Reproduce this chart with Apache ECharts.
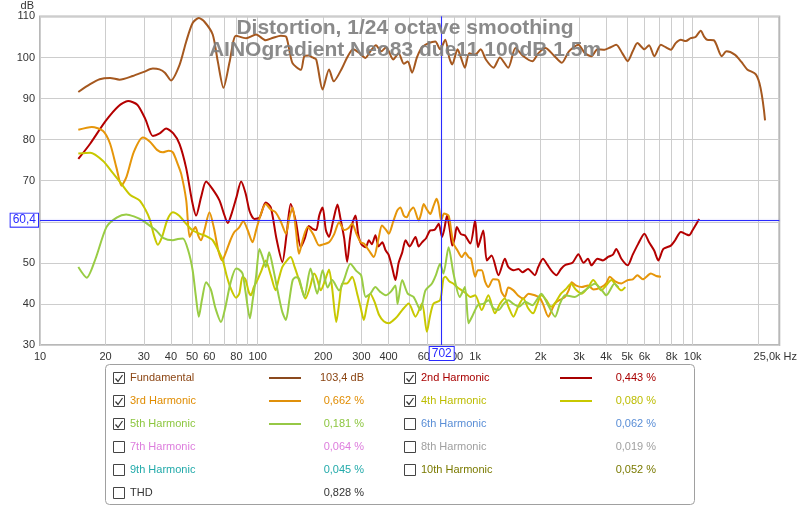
<!DOCTYPE html>
<html><head><meta charset="utf-8">
<script src="https://cdn.jsdelivr.net/npm/echarts@6/dist/echarts.min.js"></script>
<style>html,body{margin:0;padding:0;background:#fff}#c{width:800px;height:507px}</style>
</head><body><div id="c"></div>
<script>
// ---------- DATA ----------
const titleLines = ['Distortion, 1/24 octave smoothing', 'AINOgradient Neo83 due11 100dB 1.5m'];
const yUnit = 'dB';
const xTickValues = [10,20,30,40,50,60,70,80,90,100,200,300,400,500,600,700,800,900,1000,2000,3000,4000,5000,6000,7000,8000,9000,10000,20000];
const xLabelValues = [10,20,30,40,50,60,80,100,200,300,400,600,800,1000,2000,3000,4000,5000,6000,8000,10000,24999];
const xMaxLabel = '25,0k Hz';
const cursorFreq = 702;
const cursorDb = 60.4;

const fundFreq = [15,17,18.8,21,23.2,26.7,30,33,35.4,37.5,40,43.8,47,50.3,53.7,57,62.2,65.6,69.7,74.5,79.6,88.6,98.4,109,118,128,135.5,144.5,158,164,172,179,186,199,213,224,245,258,275,295,313,330,350,370,390,420,445,470,490,513,540,570,611,656,690,729,760,785,830,860,897,940,1000,1060,1120,1215,1300,1418,1532,1650,1833,1950,2102,2300,2502,2700,2980,3200,3426,3650,3940,4200,4450,4750,5023,5300,5570,6000,6300,6660,7140,7500,7935,8350,8820,9300,9790,10300,10880,11300,11640,12500,13600,14300,15600,16700,17800,19500,20500,21500];
const fundDb   = [91.6,93.5,94.7,95.0,94.6,95.5,96.5,97.3,97.1,96.3,94.4,98.2,103.9,108.4,109.6,108.7,105.6,99.1,92.6,99.1,105.3,104.7,105.6,104.2,104.8,105.3,105.0,98.7,97.0,100.3,100.5,100.0,99.5,92.2,97.1,94.2,97.5,100.0,102.0,101.0,99.9,101.5,103.0,101.5,102.5,99.5,101.0,98.5,99.0,96.3,100.0,102.5,103.5,103.9,102.0,104.3,100.0,98.3,102.0,100.0,97.5,101.0,100.7,102.0,99.5,97.5,100.0,97.5,102.3,100.5,99.1,101.0,102.3,100.5,98.7,101.5,103.1,101.0,100.3,102.0,101.9,102.5,103.1,101.0,99.1,101.5,103.5,102.0,103.0,100.3,103.1,102.5,101.9,103.5,104.3,104.0,104.7,105.0,106.5,105.0,104.3,104.2,100.3,101.5,100.7,99.0,97.1,95.9,92.6,84.7];

const h2Freq = [15,17,20,23,25.4,28,30.5,33,35.5,38,41,43.8,47,50,52.2,55,58,62,66.8,70,73,76,80,84,88,92,96.6,102,109,115,122,130,136,142,150,158,165,172,179,186,192,199,206,213,222,233,240,250,258,266,274,282,290,300,314,325,335,348,360,374,388,400,415,430,445,462,479,500,532,550,570,595,622,650,680,704,720,743,765,785,805,824,860,897,950,1000,1030,1090,1132,1190,1280,1370,1420,1503,1580,1650,1750,1880,1950,2050,2150,2250,2364,2480,2600,2800,2982,3150,3300,3426,3650,3868,4100,4300,4450,4700,5023,5300,5600,6000,6300,6650,6950,7330,7935,8300,8820,9300,9620,10000,10400,10700];
const h2Db   = [75.3,79.0,84.5,88.2,89.4,88.5,85.0,80.9,81.5,82.7,81.5,78.9,73.0,65.0,61.5,66.0,69.8,68.0,65.2,62.0,59.7,62.0,66.0,69.8,67.0,62.5,60.7,61.0,64.7,63.5,56.0,50.2,57.0,64.3,60.0,53.8,56.0,59.0,58.3,58.0,61.5,63.5,58.0,56.3,60.0,64.2,61.0,56.0,50.2,56.0,60.0,61.5,57.0,54.5,53.8,55.5,54.5,56.7,54.0,55.0,53.0,52.0,49.0,45.8,50.0,52.5,55.5,54.0,56.3,54.0,55.0,56.0,57.9,58.0,59.5,56.3,58.0,61.5,58.0,54.2,56.0,58.7,57.0,56.7,54.7,60.3,53.8,57.9,50.6,51.8,47.0,51.0,49.0,48.2,48.5,47.7,48.5,47.0,49.0,51.0,49.5,48.0,47.0,48.5,49.5,50.0,52.1,50.0,51.0,49.4,51.0,50.6,51.5,52.0,53.4,51.0,49.4,52.0,54.5,57.1,55.0,53.0,50.6,53.4,54.2,55.5,57.5,57.0,56.7,58.0,59.5,60.7];

const h3Freq = [15,17.3,19.5,21,22.5,23.7,25,27,29.7,32,34.5,36.7,39,40.8,43,44.6,47,48.7,50,51.8,53.5,55,57,60.1,63,66,68.7,72,75,78.2,82,86,90,94.8,98.4,103,109,115,121,128,135,140,145,150,155,162,170,180,192,200,213,225,237,250,262,272,285,298,308,325,342,360,373,390,401,420,438,453,470,485,500,520,550,565,580,600,622,645,665,680,698,720,755,775,795,830,867,900,933,958,1000,1030,1072,1110,1150,1210,1280,1320,1370,1420,1500,1580,1665,1760,1880,1980,2050,2170,2250,2326,2450,2590,2700,2780,2900,3090,3300,3500,3800,4000,4160,4400,4700,5023,5300,5570,5900,6420,6800,7140];
const h3Db   = [82.4,83.1,82.1,79.0,73.0,68.8,71.0,77.0,80.5,79.5,77.5,76.9,77.3,76.9,74.0,71.6,65.2,56.3,57.5,58.7,56.5,55.5,58.0,62.3,58.5,53.0,50.6,53.0,55.5,57.5,58.5,60.1,58.0,55.0,57.9,61.5,64.3,63.0,62.3,60.0,57.1,61.0,63.5,58.0,52.2,56.0,58.7,57.0,54.2,54.5,55.0,57.0,59.9,58.0,58.5,59.5,57.0,55.0,54.7,53.0,51.4,56.0,59.1,58.0,57.1,60.0,62.7,63.5,61.5,61.1,62.5,63.5,60.3,62.0,64.3,63.0,61.9,64.0,65.6,64.0,60.3,62.0,61.5,58.0,54.7,53.0,51.4,52.5,51.4,51.0,46.6,48.2,48.2,45.5,44.1,46.0,45.8,43.0,41.7,44.0,43.3,42.0,41.3,42.5,42.1,41.5,40.0,36.9,38.5,40.1,41.0,41.7,43.5,45.3,44.5,44.1,44.5,43.5,44.1,45.0,46.6,45.5,45.0,45.8,46.0,47.0,46.0,47.4,46.8,46.6];

const h4Freq = [15,17,19.5,21.5,23.7,26,28.7,30.5,31.9,33.5,34.8,36.5,38.5,40.8,43.5,47,50,54,58,62.2,66,69.2,72,75,79.6,82.4,85.3,88,91,93.2,96,99.8,104,109,115,121,125,130,136,142,148,155,160,166,174,182,188,195,205,213,220,230,237,245,258,272,287,298,308,318,330,345,362,380,401,420,438,462,495,532,570,600,620,644,690,715,730,760,795,830,867,910,950,1000,1072,1150,1233,1300,1370,1430,1500,1580,1665,1750,1846,1930,2015,2120,2233,2350,2480,2600,2760,2900,3090,3300,3490,3650,3800,4000,4230,4450,4700,4900];
const h4Db   = [76.6,76.8,74.8,72.0,69.2,66.5,65.2,63.0,60.7,56.5,54.4,56.5,60.5,62.3,61.5,59.5,58.0,57.1,56.5,55.5,53.0,50.6,47.0,44.0,41.5,42.5,46.6,46.0,43.0,42.1,44.0,45.8,48.0,50.6,47.0,43.3,46.0,49.0,50.5,51.4,49.0,45.8,43.5,41.3,44.0,47.4,46.0,43.3,46.0,48.4,44.0,35.6,40.0,44.9,45.0,46.6,42.5,39.0,36.1,39.5,42.5,40.5,37.3,35.8,35.3,36.0,36.9,38.5,40.1,36.9,40.1,33.2,37.0,40.1,40.9,46.2,46.6,45.5,44.9,44.0,43.3,42.5,41.7,42.1,38.5,42.1,37.7,40.0,41.3,39.0,36.9,39.5,41.3,39.0,37.7,40.0,42.1,41.0,39.3,40.5,42.5,43.5,44.9,43.5,42.5,44.0,45.8,44.5,43.3,44.5,45.8,44.5,43.3,44.1];

const h5Freq = [15,16.4,18,20.2,22.5,24.9,27,29.7,32,34.2,37,40.8,43,45.4,48,50.3,52,53.7,55.5,58,61,64,67.9,71,75,79.6,82,85.3,88,92.2,95,98.4,102,106,109,113,118,125,130,135,140,145,150,155,164,175,188,199,210,220,237,250,267,285,299,314,330,348,365,388,410,430,440,462,490,521,560,591,632,660,690,715,755,795,850,897,933,970,1030,1090,1150,1210,1280,1350,1420,1500,1590,1700,1833,1920,2015,2150,2330,2450,2590,2870,3050,3200,3550,3800,4010,4370,4550];
const h5Db   = [49.0,46.4,51.0,58.7,61.0,61.8,61.3,60.3,59.0,57.9,56.0,55.5,55.8,55.9,53.0,48.2,42.0,36.9,41.0,45.3,43.5,39.0,35.6,39.0,45.0,48.6,48.4,47.4,43.0,36.5,41.0,46.6,53.4,51.0,49.0,52.6,48.6,42.0,38.0,36.1,41.0,45.8,46.5,46.2,41.7,48.6,42.5,48.2,44.0,45.8,43.3,46.0,49.8,48.0,47.0,41.7,42.5,44.1,43.0,42.1,43.0,44.5,40.0,45.8,42.5,41.7,38.5,43.3,44.9,47.0,49.8,47.4,53.8,47.4,41.7,44.1,35.3,37.0,39.7,40.0,40.9,39.0,38.5,40.0,40.9,40.0,39.3,40.5,39.7,41.0,42.5,40.0,36.9,40.0,42.1,41.7,42.5,43.3,44.9,43.5,42.1,44.9,44.0];

const legendNames  = ['Fundamental','2nd Harmonic','3rd Harmonic','4th Harmonic','5th Harmonic','6th Harmonic','7th Harmonic','8th Harmonic','9th Harmonic','10th Harmonic','THD'];
const legendValues = ['103,4 dB','0,443 %','0,662 %','0,080 %','0,181 %','0,062 %','0,064 %','0,019 %','0,045 %','0,052 %','0,828 %'];
const legendChecked = [true,true,true,true,true,false,false,false,false,false,false];

// ---------- STYLE ----------
const FONT = '"Liberation Sans", Arial, sans-serif';
const traceColors = ['#a5581f','#b40000','#e6960a','#c8c800','#99cc44'];
const legendTextColors = ['#8b4513','#a80000','#e08c00','#bcbc00','#8cc63f','#5a8ed6','#dd7ddd','#a0a0a0','#22aaaa','#7a7a00','#333333'];
const legendLineColors = ['#8b4a1e','#a80000','#e0900a','#c8c800','#96c846'];
const cursorColor = '#2a2aff';

function pairs(f, d) { return f.map((v, i) => [v, d[i]]); }
const seriesDefs = [
  ['Fundamental', fundFreq, fundDb],
  ['2nd Harmonic', h2Freq, h2Db],
  ['3rd Harmonic', h3Freq, h3Db],
  ['4th Harmonic', h4Freq, h4Db],
  ['5th Harmonic', h5Freq, h5Db]
];

function fmtX(v) {
  const r = Math.round(v);
  if (r >= 24000) return '{e|' + xMaxLabel + '}';
  if (r >= 1000) return (r / 1000) + 'k';
  return String(r);
}

const series = seriesDefs.map((s, i) => ({
  name: s[0], type: 'line', data: pairs(s[1], s[2]), showSymbol: false, symbol: 'none',
  smooth: 0.25, lineStyle: { width: 2, color: traceColors[i] }, itemStyle: { color: traceColors[i] },
  z: 3, animation: false, silent: true
}));
const cLabel = {
  show: true, position: 'start', color: cursorColor, backgroundColor: '#fff',
  borderColor: cursorColor, borderWidth: 1, padding: [1, 2, 0, 2], fontSize: 12, fontFamily: FONT, distance: 2
};
series.push({
  name: 'cursor', type: 'line', data: [], silent: true, z: 4,
  markLine: {
    silent: true, symbol: 'none', animation: false,
    lineStyle: { color: cursorColor, width: 1, type: 'solid', shadowColor: 'rgba(80,80,255,0.35)', shadowBlur: 2 },
    emphasis: { disabled: true },
    data: [
      { xAxis: cursorFreq, label: Object.assign({}, cLabel, { formatter: String(Math.round(cursorFreq)) }) },
      { yAxis: cursorDb, label: Object.assign({}, cLabel, { formatter: String(cursorDb).replace('.', ',') }) }
    ]
  }
});

// ---------- LEGEND (graphic) ----------
const graphics = [];
graphics.push({ type: 'rect', shape: { x: 105.5, y: 364.5, width: 589, height: 140, r: 4 },
  style: { fill: '#fff', stroke: '#a0a0a0', lineWidth: 1 }, z: 0 });
legendNames.forEach((name, i) => {
  const col = i % 2, row = Math.floor(i / 2);
  const bx = col ? 404 : 113;
  const cy = 378 + row * 23;
  const color = legendTextColors[i];
  graphics.push({ type: 'rect', shape: { x: bx + 0.5, y: cy - 5.5, width: 11, height: 11 },
    style: { fill: '#fff', stroke: '#444', lineWidth: 1 }, z: 1 });
  if (legendChecked[i]) {
    graphics.push({ type: 'polyline', shape: { points: [[bx + 2.5, cy + 0.5], [bx + 5, cy + 3.5], [bx + 9.5, cy - 3]] },
      style: { stroke: '#333', lineWidth: 1.2, fill: null }, z: 1 });
    graphics.push({ type: 'line', shape: { x1: col ? 560 : 269, y1: cy, x2: col ? 592 : 301, y2: cy },
      style: { stroke: legendLineColors[i], lineWidth: 2 }, z: 1 });
  }
  graphics.push({ type: 'text', x: bx + 17, y: cy, z: 1,
    style: { text: name, fill: color, fontSize: 11, fontFamily: FONT, align: 'left', verticalAlign: 'middle' } });
  graphics.push({ type: 'text', x: col ? 656 : 364, y: cy, z: 1,
    style: { text: legendValues[i], fill: color, fontSize: 11, fontFamily: FONT, align: 'right', verticalAlign: 'middle' } });
});

const chart = echarts.init(document.getElementById('c'), null, { renderer: 'canvas' });
chart.setOption({
  animation: false,
  backgroundColor: '#fff',
  title: {
    text: titleLines.join('\n'), left: 400, top: 12, textAlign: 'center', z: 10,
    textStyle: { fontSize: 21, fontWeight: 'bold', color: 'rgba(128,128,128,0.92)', fontFamily: FONT, lineHeight: 22 }
  },
  grid: { left: 40, top: 15, width: 742, height: 330, show: true, borderColor: '#b8b8b8', borderWidth: 2, backgroundColor: '#fff' },
  xAxis: {
    type: 'log', logBase: 10, min: 10, max: 25000,
    axisLine: { show: false },
    axisTick: { show: false, customValues: xTickValues },
    splitLine: { show: true, lineStyle: { color: '#cdcdcd', width: 1 } },
    minorSplitLine: { show: false },
    axisLabel: {
      customValues: xLabelValues, formatter: fmtX, color: '#333', fontSize: 11, fontFamily: FONT, margin: 6,
      rich: { e: { fontSize: 11, fontFamily: FONT, color: '#333', padding: [0, 8, 0, 0] } }
    }
  },
  yAxis: {
    type: 'value', min: 30, max: 110, interval: 10,
    name: yUnit, nameLocation: 'end', nameGap: 4,
    nameTextStyle: { color: '#333', fontSize: 11, fontFamily: FONT, align: 'right', padding: [0, 6, 0, 0] },
    axisLine: { show: false }, axisTick: { show: false },
    splitLine: { show: true, lineStyle: { color: '#cdcdcd', width: 1 } },
    axisLabel: { color: '#333', fontSize: 11, fontFamily: FONT, margin: 5 }
  },
  series: series,
  graphic: graphics
});
</script></body></html>
